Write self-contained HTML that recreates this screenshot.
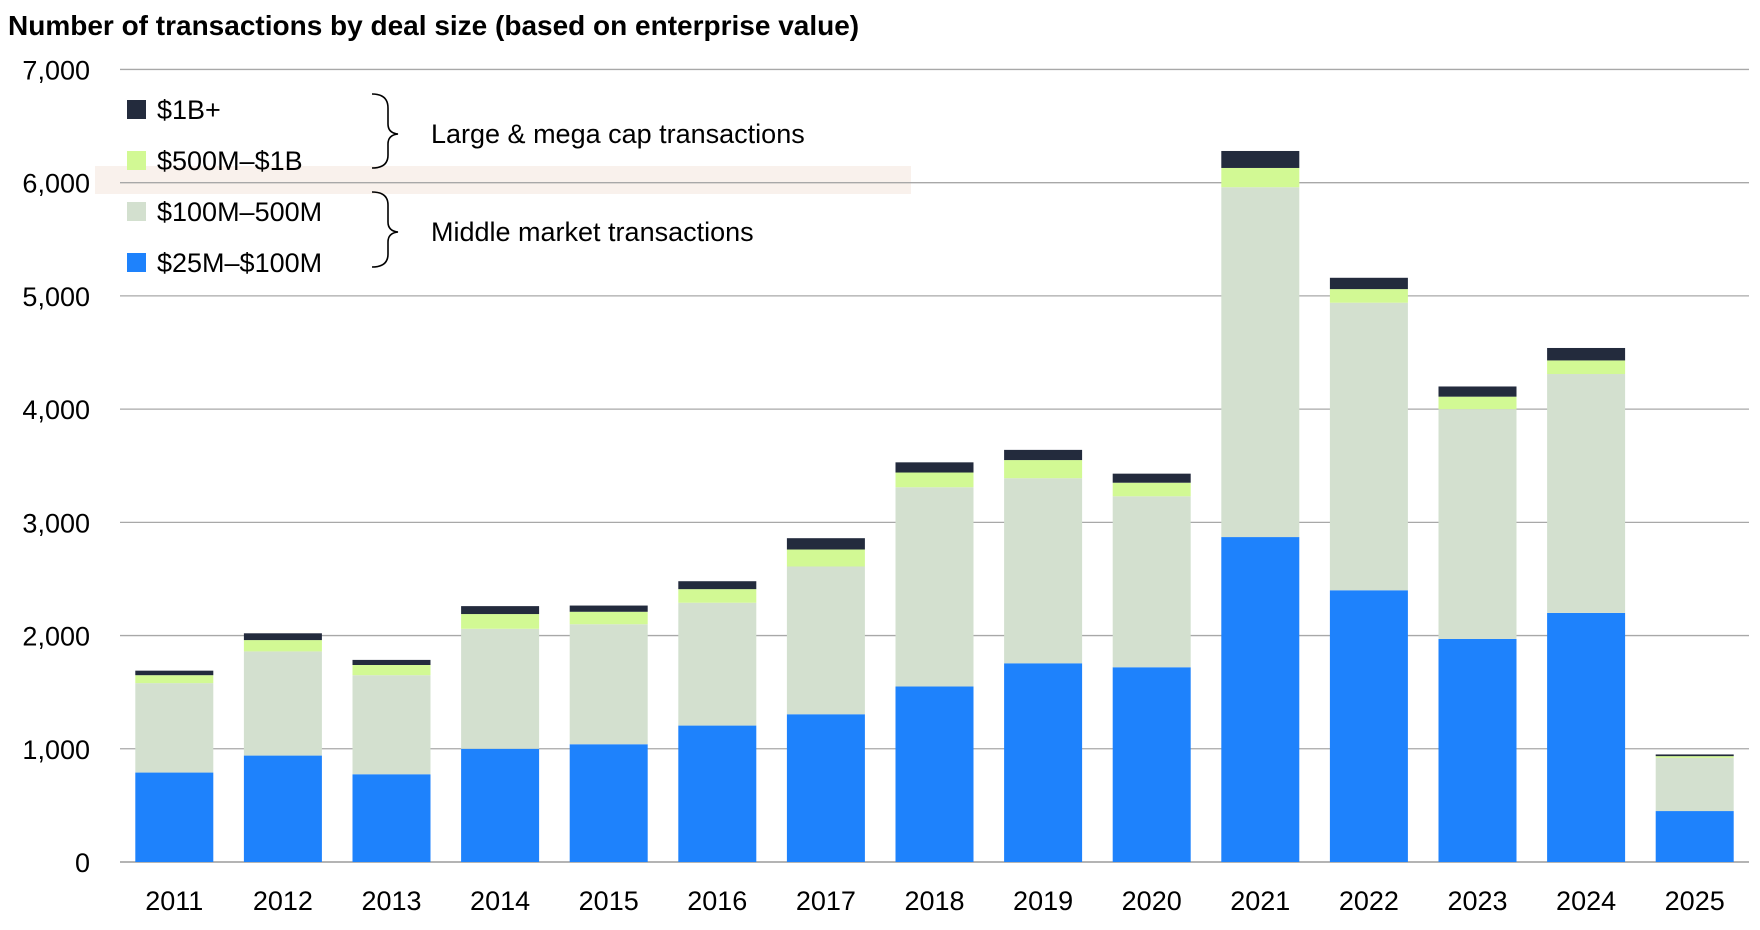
<!DOCTYPE html>
<html><head><meta charset="utf-8"><style>
html,body{margin:0;padding:0;background:#fff;}
svg{display:block;font-family:"Liberation Sans",Arial,sans-serif;}
</style></head><body>
<svg id="chart" width="1760" height="930" viewBox="0 0 1760 930">
<text x="8" y="35" font-size="28" font-weight="bold" fill="#000">Number of transactions by deal size (based on enterprise value)</text>
<rect x="95" y="166" width="816" height="28" fill="#f9f1ec"/>
<g id="grid"></g>
<g id="bars"></g>
<g id="xlabels"></g>
<g font-size="27" fill="#000">
<rect x="127" y="100" width="19" height="19" fill="#232b3d"/>
<text x="157" y="119">$1B+</text>
<rect x="127" y="151" width="19" height="19" fill="#d2f994"/>
<text x="157" y="170">$500M–$1B</text>
<rect x="127" y="202" width="19" height="19" fill="#d3e0cf"/>
<text x="157" y="221">$100M–500M</text>
<rect x="127" y="253" width="19" height="19" fill="#1e82fc"/>
<text x="157" y="272">$25M–$100M</text>
<path d="M372,94 Q388,94 388,108 L388,124 Q388,133 398,134 Q388,135 388,144 L388,155 Q388,168 372,168" fill="none" stroke="#000" stroke-width="1.6"/>
<path d="M372,192 Q388,192 388,205 L388,222 Q388,231 398,232 Q388,233 388,242 L388,254 Q388,267 372,267" fill="none" stroke="#000" stroke-width="1.6"/>
<text x="431" y="143">Large &amp; mega cap transactions</text>
<text x="431" y="241">Middle market transactions</text>
</g>
</svg>
<script>
const years=["2011","2012","2013","2014","2015","2016","2017","2018","2019","2020","2021","2022","2023","2024","2025"];
const s25to100=[790,940,775,1000,1040,1205,1305,1550,1755,1720,2870,2400,1970,2200,450];
const s100to500=[790,920,875,1060,1060,1085,1305,1760,1635,1510,3090,2540,2030,2110,470];
const s500to1b=[70,100,90,130,110,120,150,130,160,120,170,120,110,120,15];
const s1bplus=[40,60,45,70,55,70,100,90,90,80,150,100,90,110,15];
const yTicks=[0,1000,2000,3000,4000,5000,6000,7000];
const yTickLabels=["0","1,000","2,000","3,000","4,000","5,000","6,000","7,000"];
const NS="http://www.w3.org/2000/svg";
const X0=120,X1=1749,Y0=862,PER=0.11322;
function y(v){return Y0-v*PER;}
const step=(X1-X0)/years.length;
function xc(i){return X0+step*(i+0.5);}
const bw=78;
const grid=document.getElementById('grid');
yTicks.forEach((t,i)=>{
 const l=document.createElementNS(NS,'line');
 l.setAttribute('x1',X0);l.setAttribute('x2',X1);l.setAttribute('y1',y(t));l.setAttribute('y2',y(t));
 l.setAttribute('stroke',t===0?'#888':'#a8a8a8');l.setAttribute('stroke-width','1.3');
 
 
 grid.appendChild(l);
 const tx=document.createElementNS(NS,'text');
 tx.setAttribute('x',90);tx.setAttribute('y',y(t)+10);tx.setAttribute('text-anchor','end');tx.setAttribute('font-size','27');
 tx.textContent=yTickLabels[i];
 
 
 grid.appendChild(tx);
});
const series=[[s25to100,'#1e82fc','25m-100m'],[s100to500,'#d3e0cf','100m-500m'],[s500to1b,'#d2f994','500m-1b'],[s1bplus,'#232b3d','1b-plus']];
const bars=document.getElementById('bars'),xl=document.getElementById('xlabels');
years.forEach((yr,i)=>{
 let base=0;
 series.forEach(([arr,col,nm])=>{
  const v=arr[i];
  const r=document.createElementNS(NS,'rect');
  r.setAttribute('x',xc(i)-bw/2);r.setAttribute('width',bw);
  r.setAttribute('y',y(base+v));r.setAttribute('height',v*PER);r.setAttribute('fill',col);
  
  
  bars.appendChild(r);
  base+=v;
 });
 const t=document.createElementNS(NS,'text');
 t.setAttribute('x',xc(i));t.setAttribute('y',910);t.setAttribute('text-anchor','middle');t.setAttribute('font-size','27');
 t.textContent=yr;
 
 
 xl.appendChild(t);
});
</script>
</body></html>
